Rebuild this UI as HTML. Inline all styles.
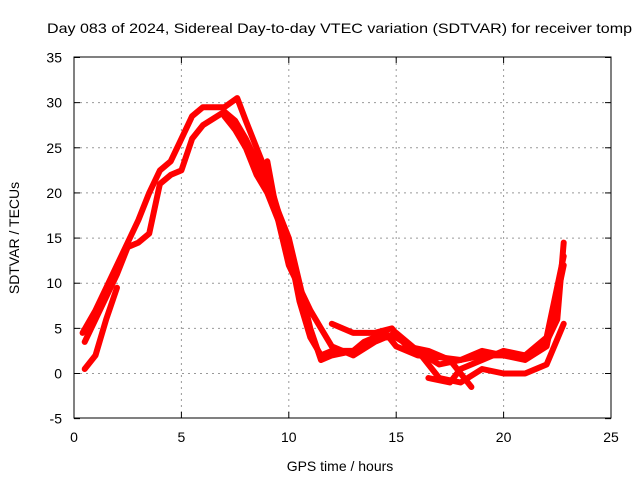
<!DOCTYPE html>
<html><head><meta charset="utf-8"><style>
body{margin:0;background:#fff;}
svg{font-family:"Liberation Sans",sans-serif;font-size:14px;}
</style></head><body>
<svg id="chart" width="640" height="480">
<rect x="0" y="0" width="640" height="480" fill="#fff"/>
<g id="grid"></g><g id="axes"></g><g id="series"></g>
<text x="47" y="33" textLength="585" lengthAdjust="spacingAndGlyphs">Day 083 of 2024, Sidereal Day-to-day VTEC variation (SDTVAR) for receiver tomp</text>
<text x="340" y="471" text-anchor="middle">GPS time / hours</text>
<text x="0" y="0" transform="translate(19,238) rotate(-90)" text-anchor="middle">SDTVAR / TECUs</text>
</svg>
<script>
const xTicks=[0,5,10,15,20,25];
const yTicks=[-5,0,5,10,15,20,25,30,35];
const s1H=[0.4,1,2,3,3.5,4,4.5,5,5.5,6,7,7.6,8,9,10,10.5,11,11.5,12,13,13.5,14,14.5,15,16,17,18,19,20,21,22,22.5,22.8];
const s1V=[4.5,7,12,17,20,22.5,23.5,26,28.5,29.5,29.5,30.5,28,22,14,8,4,2,2.5,2.5,3.5,4,4.5,3,2,1.8,1.5,2,2,2,3.5,6,14.5];
const s2H=[0.5,1,2,2.5,3,3.5,4,4.5,5,5.5,6,7,7.5,8,9,10,11,11.5,12,13,14,15,16,17,18,19,20,21,22,22.8];
const s2V=[3.5,6,11,14,14.5,15.5,21,22,22.5,26,27.5,29,28,26,21,15,5,1.5,2,2.5,4,4,2.5,1,1.5,2.5,2,1.5,3,12];
const s3H=[0.5,1,1.5,2];
const s3V=[0.5,2,6,9.5];
const s4H=[9,9.5,10,11,11.5,12,13,14,15,16,17,18,19,20,21,22,22.8];
const s4V=[23.5,17,12,7,5,3,2,3.5,4.5,2.5,-0.5,-1,0.5,0,0,1,5.5];
const s5H=[12,13,14,14.8,15.5,16.5,17.5,18.5];
const s5V=[5.5,4.5,4.5,5,3,2.5,1.5,-1.5];
const s6H=[16.5,17.5,18,19,20,21,22,22.8];
const s6V=[-0.5,-1,0.5,1.5,2.5,2,4,13];
const s7H=[7,7.5,8,8.5,9,9.5];
const s7V=[28.5,27,25,22,20,17];
const X=h=>74+h*(537/25);
const Y=v=>373.5-v*(316/35);
const NS="http://www.w3.org/2000/svg";
const grid=document.getElementById('grid'),axes=document.getElementById('axes'),ser=document.getElementById('series');
function mk(tag,attrs,parent){const e=document.createElementNS(NS,tag);for(const k in attrs)e.setAttribute(k,attrs[k]);parent.appendChild(e);return e;}
const frame=mk('rect',{x:74,y:57,width:537,height:361,fill:'none',stroke:'#000'},axes);


xTicks.forEach(t=>{
 const x=X(t);
 if(t>0&&t<25){const g=mk('line',{x1:x,x2:x,y1:57,y2:418,stroke:'#999','stroke-dasharray':'2,4'},grid);
 
 }
 mk('line',{x1:x,x2:x,y1:418,y2:412,stroke:'#000'},axes);
 mk('line',{x1:x,x2:x,y1:57,y2:63,stroke:'#000'},axes);
 const l=mk('text',{x:x,y:442,'text-anchor':'middle'},axes);l.textContent=t;
 
 
});
yTicks.forEach(t=>{
 const y=Y(t);
 if(t>-5&&t<35){const g=mk('line',{x1:74,x2:611,y1:y,y2:y,stroke:'#999','stroke-dasharray':'2,4'},grid);
 
 }
 mk('line',{x1:74,x2:80,y1:y,y2:y,stroke:'#000'},axes);
 mk('line',{x1:605,x2:611,y1:y,y2:y,stroke:'#000'},axes);
 const l=mk('text',{x:62,y:y+5,'text-anchor':'end'},axes);l.textContent=t;
 
 
});
[[s1H,s1V],[s2H,s2V],[s3H,s3V],[s4H,s4V],[s5H,s5V],[s6H,s6V],[s7H,s7V]].forEach((s,i)=>{
 const pts=s[0].map((h,j)=>X(h).toFixed(1)+','+Y(s[1][j]).toFixed(1)).join(' ');
 const p=mk('polyline',{points:pts,fill:'none',stroke:'#f00','stroke-width':6,'stroke-linejoin':'round','stroke-linecap':'round'},ser);
 
 
});
</script>
</body></html>
